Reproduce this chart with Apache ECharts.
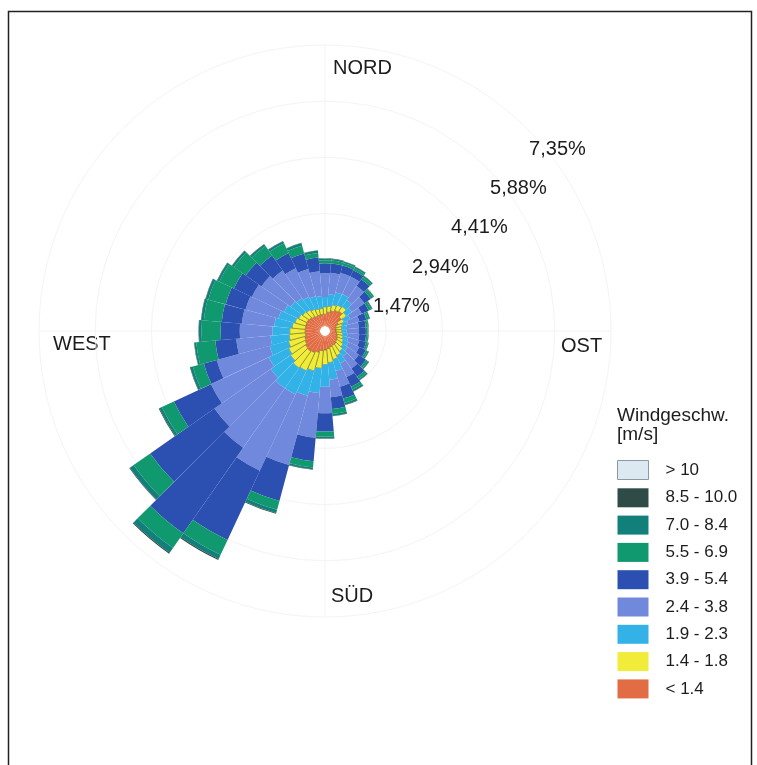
<!DOCTYPE html>
<html>
<head>
<meta charset="utf-8">
<script src="https://cdn.jsdelivr.net/npm/echarts@6/dist/echarts.min.js"></script>
<style>
  html, body { margin: 0; padding: 0; background: #fff; }
  #chart { width: 757px; height: 765px; }
</style>
</head>
<body>
<div id="chart"></div>
<script>
// Sektoren (Grad, im Uhrzeigersinn ab Nord)
const directions = ['0', '10', '20', '30', '40', '50', '60', '70', '80', '90', '100', '110',
  '120', '130', '140', '150', '160', '170', '180', '190', '200', '210', '220', '230',
  '240', '250', '260', '270', '280', '290', '300', '310', '320', '330', '340', '350']

// Häufigkeit je Geschwindigkeitsklasse [%]
const under14 = [0.31, 0.37, 0.42, 0.47, 0.50, 0.39, 0.26, 0.18, 0.16, 0.16, 0.18, 0.21,
  0.24, 0.26, 0.29, 0.29, 0.31, 0.34, 0.37, 0.39, 0.45, 0.50, 0.52, 0.50,
  0.45, 0.42, 0.39, 0.39, 0.39, 0.39, 0.39, 0.37, 0.34, 0.31, 0.31, 0.31]
const from14 = [0.19, 0.15, 0.16, 0.15, 0.15, 0.16, 0.16, 0.16, 0.15, 0.15, 0.15, 0.15,
  0.16, 0.19, 0.23, 0.29, 0.33, 0.36, 0.38, 0.46, 0.50, 0.52, 0.53, 0.47,
  0.47, 0.44, 0.42, 0.40, 0.34, 0.29, 0.24, 0.21, 0.21, 0.19, 0.16, 0.15]
const from19 = [0.26, 0.32, 0.34, 0.32, 0.21, 0.18, 0.18, 0.16, 0.14, 0.13, 0.13, 0.14,
  0.15, 0.15, 0.16, 0.22, 0.31, 0.45, 0.58, 0.65, 0.67, 0.68, 0.65, 0.63,
  0.57, 0.51, 0.49, 0.46, 0.47, 0.45, 0.42, 0.39, 0.37, 0.36, 0.34, 0.33]
const from24 = [0.62, 0.56, 0.52, 0.50, 0.45, 0.40, 0.33, 0.30, 0.31, 0.32, 0.31, 0.30,
  0.31, 0.35, 0.39, 0.40, 0.43, 0.46, 0.69, 1.17, 1.88, 2.20, 1.90, 1.80,
  1.67, 1.43, 0.90, 0.85, 0.85, 0.89, 0.93, 0.93, 0.88, 0.82, 0.74, 0.65]
const from39 = [0.26, 0.24, 0.20, 0.18, 0.21, 0.20, 0.20, 0.19, 0.18, 0.18, 0.18, 0.18,
  0.19, 0.23, 0.26, 0.28, 0.32, 0.31, 0.48, 0.62, 0.97, 2.00, 2.73, 2.05,
  1.07, 0.35, 0.55, 0.50, 0.53, 0.54, 0.52, 0.50, 0.48, 0.44, 0.42, 0.36]
const from55 = [0.08, 0.08, 0.07, 0.06, 0.07, 0.07, 0.07, 0.06, 0.05, 0.04, 0.04, 0.05,
  0.05, 0.06, 0.07, 0.08, 0.12, 0.13, 0.13, 0.16, 0.24, 0.43, 0.47, 0.53,
  0.35, 0.30, 0.50, 0.50, 0.47, 0.47, 0.42, 0.38, 0.30, 0.28, 0.21, 0.12]
const from70 = [0.05, 0.04, 0.04, 0.04, 0.04, 0.03, 0.03, 0.03, 0.02, 0.02, 0.02, 0.02,
  0.03, 0.03, 0.04, 0.05, 0.05, 0.05, 0.05, 0.05, 0.09, 0.12, 0.15, 0.12,
  0.07, 0.07, 0.05, 0.07, 0.07, 0.07, 0.06, 0.06, 0.06, 0.06, 0.07, 0.06]
const from85 = [0.01, 0.01, 0.01, 0.01, 0.01, 0.01, 0.01, 0.01, 0.01, 0.01, 0.01, 0.01,
  0.01, 0.01, 0.01, 0.01, 0.01, 0.01, 0.01, 0.01, 0.02, 0.03, 0.03, 0.02,
  0.02, 0.01, 0.01, 0.01, 0.01, 0.01, 0.01, 0.01, 0.01, 0.01, 0.01, 0.01]
const over10 = [0, 0, 0, 0, 0, 0, 0, 0, 0, 0, 0, 0,
  0, 0, 0, 0, 0, 0, 0, 0, 0, 0, 0, 0,
  0, 0, 0, 0, 0, 0, 0, 0, 0, 0, 0, 0]

// Klassen von innen nach außen
const classNames = ['< 1.4', '1.4 - 1.8', '1.9 - 2.3', '2.4 - 3.8', '3.9 - 5.4',
  '5.5 - 6.9', '7.0 - 8.4', '8.5 - 10.0', '> 10']
const classData = [under14, from14, from19, from24, from39, from55, from70, from85, over10]
const classColors = ['#e26d45', '#f1ec3a', '#33b2e8', '#7189dc', '#2c4fb2',
  '#10996f', '#12807a', '#2e4b48', '#dde9f0']

// Ringe
const ringStep = 1.47
const ringMax = 7.35
const compassLabels = ['NORD', 'OST', 'SÜD', 'WEST']

const chart = echarts.init(document.getElementById('chart'))
const font = 'Liberation Sans, Arial, sans-serif'
const textColor = '#1c1c1c'

const series = classData.map((data, idx) => ({
  name: classNames[idx],
  type: 'bar',
  coordinateSystem: 'polar',
  polarIndex: 0,
  stack: 'rose',
  data,
  barCategoryGap: '0%',
  itemStyle: idx === 1
    ? { color: classColors[idx], borderColor: 'rgba(70,70,20,0.7)', borderWidth: 0.6 }
    : { color: classColors[idx] },
  emphasis: { disabled: true }
}))

// Legende: > 10 oben, Rahmen nur beim hellsten Feld
const legendData = classNames.slice().reverse().map((name) => ({
  name,
  itemStyle: name === '> 10'
    ? { borderColor: '#8a9aa4', borderWidth: 1 }
    : { borderWidth: 0 }
}))

chart.setOption({
  backgroundColor: '#fff',
  animation: false,
  polar: [
    { center: [325, 331], radius: [5, 286] },
    { center: [330.4, 348.6], radius: [5, 281] },
    { center: [325, 331], radius: [5, 286] }
  ],
  angleAxis: [
    {
      polarIndex: 0, type: 'category', data: directions, startAngle: 95, clockwise: true,
      axisLine: { show: false }, axisTick: { show: false }, axisLabel: { show: false },
      splitLine: { show: false }
    },
    {
      polarIndex: 1, type: 'value', min: 0, max: 360, startAngle: 45, show: false
    },
    {
      polarIndex: 2, type: 'value', min: 0, max: 360, interval: 90, startAngle: 90,
      axisLine: { show: false }, axisTick: { show: false }, axisLabel: { show: false },
      splitLine: { show: true, lineStyle: { color: '#f3f3f3', width: 1 } }
    }
  ],
  radiusAxis: [
    {
      polarIndex: 0, min: 0, max: ringMax,
      axisLine: { show: false }, axisTick: { show: false }, axisLabel: { show: false },
      splitLine: { show: false }
    },
    {
      polarIndex: 1, min: 0, max: ringMax, interval: ringStep,
      axisLine: { show: false }, axisTick: { show: false }, splitLine: { show: false },
      axisLabel: {
        show: true, margin: 0, align: 'left', verticalAlign: 'middle',
        fontFamily: font, fontSize: 20, color: textColor,
        formatter: (v) => v === 0 ? '' : v.toFixed(2).replace('.', ',') + '%'
      }
    },
    {
      polarIndex: 2, min: 0, max: ringMax, interval: ringStep,
      axisLine: { show: false }, axisTick: { show: false }, axisLabel: { show: false },
      splitLine: { show: true, lineStyle: { color: '#f4f4f4', width: 1 } }
    }
  ],
  title: {
    text: 'Windgeschw.\n[m/s]',
    left: 617, top: 406, padding: 0,
    textStyle: {
      fontFamily: font, fontSize: 19, fontWeight: 'normal',
      color: textColor, lineHeight: 19
    }
  },
  legend: {
    orient: 'vertical',
    left: 617, top: 460, padding: 0,
    data: legendData,
    icon: 'rect',
    itemWidth: 31, itemHeight: 19, itemGap: 8.3,
    selectedMode: false,
    textStyle: {
      fontFamily: font, fontSize: 17, color: textColor,
      padding: [0, 0, 0, 12]
    }
  },
  graphic: [
    {
      type: 'rect', silent: true,
      shape: { x: 8.5, y: 11.5, width: 743, height: 800 },
      style: { fill: 'none', stroke: '#222', lineWidth: 1.5 }
    },
    ...[[333, 68], [561, 346], [331, 596], [53, 344]].map((p, i) => ({
      type: 'text', silent: true, x: p[0], y: p[1],
      style: {
        text: compassLabels[i], fill: textColor, fontSize: 20,
        fontFamily: font, verticalAlign: 'middle'
      }
    }))
  ],
  series
})
</script>
</body>
</html>
